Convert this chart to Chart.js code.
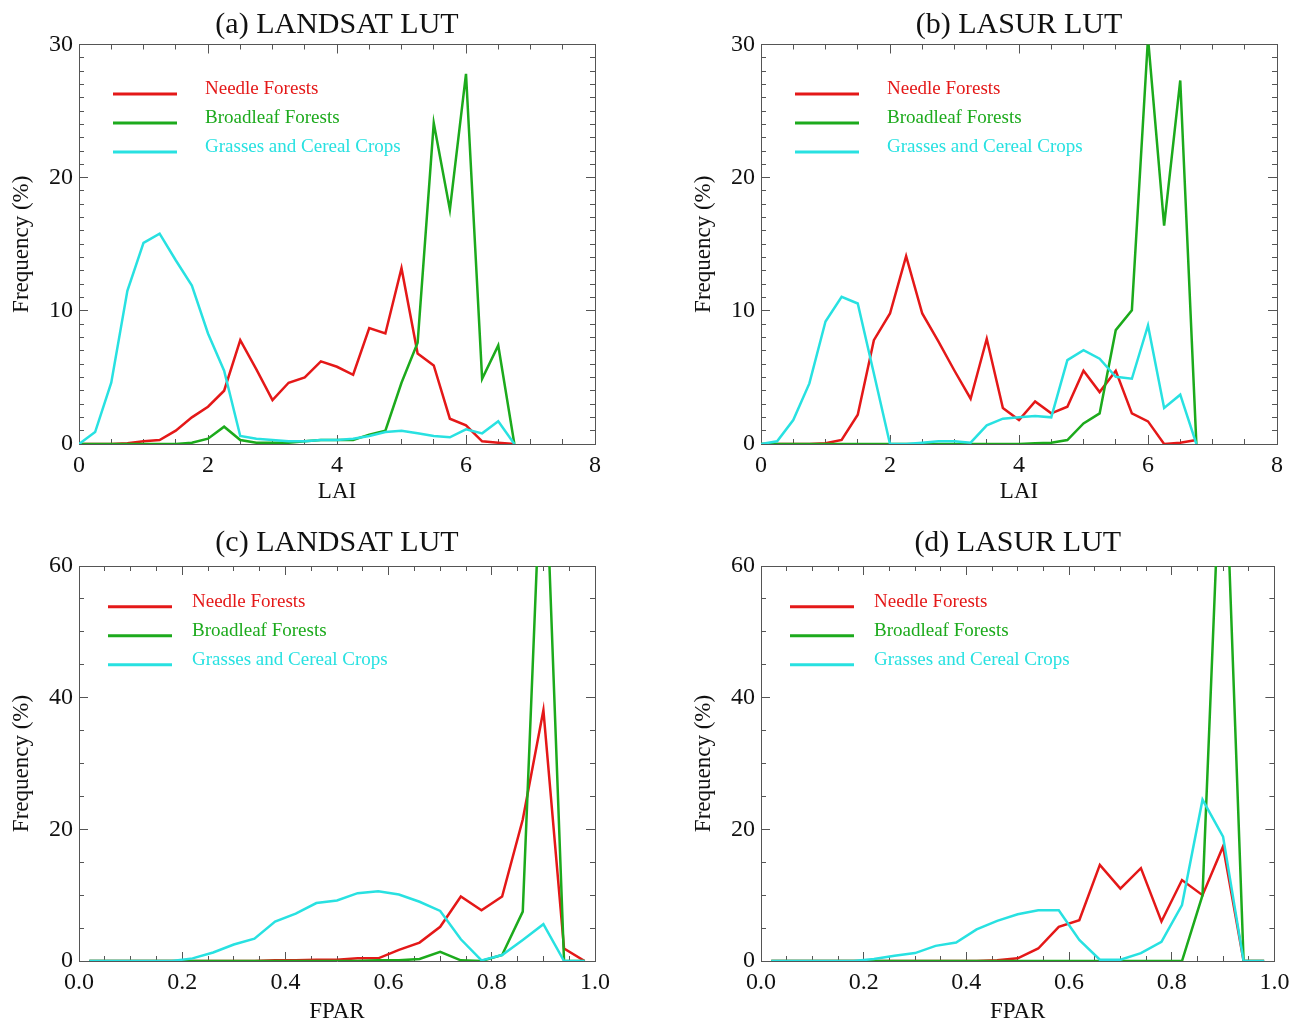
<!DOCTYPE html>
<html><head><meta charset="utf-8">
<script src="https://cdn.jsdelivr.net/npm/chart.js@4.4.0/dist/chart.umd.min.js"></script>
<style>
html,body{margin:0;padding:0;background:#fff;overflow:hidden;width:1306px;height:1022px;position:relative;}
canvas{position:absolute;display:block;}
</style></head><body>
<canvas id="pa" width="640" height="515" style="left:0;top:0"></canvas>
<canvas id="pb" width="624" height="515" style="left:682px;top:0"></canvas>
<canvas id="pc" width="640" height="520" style="left:0;top:520px"></canvas>
<canvas id="pd" width="624" height="520" style="left:682px;top:520px"></canvas>
<script>
// ---------- data ----------
const laiBins = [0,0.25,0.5,0.75,1,1.25,1.5,1.75,2,2.25,2.5,2.75,3,3.25,3.5,3.75,4,4.25,4.5,4.75,5,5.25,5.5,5.75,6,6.25,6.5,6.75];
const fparBins = [0.02,0.06,0.10,0.14,0.18,0.22,0.26,0.30,0.34,0.38,0.42,0.46,0.50,0.54,0.58,0.62,0.66,0.70,0.74,0.78,0.82,0.86,0.90,0.94,0.98];

const seriesNames = ['Needle Forests','Broadleaf Forests','Grasses and Cereal Crops'];
const panelTitles = ['(a) LANDSAT LUT','(b) LASUR LUT','(c) LANDSAT LUT','(d) LASUR LUT'];
const laiTicks = [0,2,4,6,8];
const fparTicks = ['0.0','0.2','0.4','0.6','0.8','1.0'];

// (a) LAI, LANDSAT LUT
const needleLaiLandsat    = [0,0,0,0.05,0.2,0.3,1.0,2.0,2.8,4.0,7.8,5.6,3.3,4.6,5.0,6.2,5.8,5.2,8.7,8.3,13.2,6.8,5.9,1.9,1.4,0.2,0.1,0];
const broadleafLaiLandsat = [0,0,0,0,0,0,0,0.1,0.4,1.3,0.3,0.1,0.1,0.1,0.2,0.3,0.3,0.3,0.7,1.0,4.6,7.6,24.1,17.6,27.8,4.9,7.4,0];
const grassLaiLandsat     = [0,0.9,4.6,11.5,15.1,15.8,13.8,11.9,8.3,5.5,0.6,0.4,0.3,0.2,0.2,0.3,0.3,0.4,0.6,0.9,1.0,0.8,0.6,0.5,1.1,0.8,1.7,0];

// (b) LAI, LASUR LUT
const needleLaiLasur    = [0,0,0,0,0.05,0.3,2.2,7.8,9.8,14.1,9.8,7.7,5.5,3.4,7.9,2.7,1.8,3.2,2.3,2.8,5.5,3.9,5.5,2.3,1.7,0,0.1,0.3];
const broadleafLaiLasur = [0,0,0,0,0,0,0,0,0,0,0,0,0,0,0,0,0,0.05,0.1,0.3,1.55,2.3,8.55,10.05,30.5,16.4,27.3,0];
const grassLaiLasur     = [0,0.2,1.8,4.55,9.2,11.05,10.55,5.3,0,0,0.1,0.2,0.2,0.1,1.4,1.9,2.0,2.1,2.0,6.3,7.05,6.4,5.05,4.9,8.9,2.7,3.7,0];

// (c) FPAR, LANDSAT LUT
const needleFparLandsat    = [0,0,0,0,0,0,0,0,0,0.1,0.1,0.2,0.2,0.4,0.4,1.7,2.8,5.2,9.8,7.7,9.8,21.5,38.1,1.9,0];
const broadleafFparLandsat = [0,0,0,0,0,0,0,0,0,0,0,0,0,0,0.1,0.1,0.3,1.4,0.1,0,0.9,7.5,85,0,0];
const grassFparLandsat     = [0,0,0,0,0,0.4,1.3,2.5,3.4,6.0,7.2,8.8,9.2,10.3,10.6,10.1,9.0,7.6,3.3,0.1,0.9,3.2,5.6,0,0];

// (d) FPAR, LASUR LUT
const needleFparLasur    = [0,0,0,0,0,0,0,0,0,0,0,0.1,0.4,1.9,5.2,6.2,14.6,11.0,14.1,6.0,12.3,10.0,17.4,0,0];
const broadleafFparLasur = [0,0,0,0,0,0,0,0,0,0,0,0,0,0,0,0,0,0,0,0,0,10,87,0,0];
const grassFparLasur     = [0,0,0,0,0,0.3,0.8,1.2,2.3,2.8,4.8,6.1,7.1,7.7,7.7,3.2,0.2,0.2,1.2,2.9,8.5,24.5,18.9,0,0];

// ---------- styles ----------
const FONT = "'Liberation Serif','Times New Roman',Times,serif";
const RED = 'rgb(228,24,24)';
const GREEN = 'rgb(28,170,28)';
const CYAN = 'rgb(40,225,225)';
const FRAME = '#555';
const TXT = '#111';

const insideLegend = {
  id: 'insideLegend',
  afterDatasetsDraw(chart, args, o) {
    const ctx = chart.ctx, ca = chart.chartArea;
    ctx.save();
    chart.data.datasets.forEach((ds, i) => {
      const y = ca.top + o.top + i * o.gap;
      ctx.strokeStyle = ds.borderColor;
      ctx.lineWidth = 3;
      ctx.beginPath();
      ctx.moveTo(ca.left + o.x1, y);
      ctx.lineTo(ca.left + o.x2, y);
      ctx.stroke();
      ctx.fillStyle = ds.borderColor;
      ctx.font = o.fontSize + 'px ' + FONT;
      ctx.textAlign = 'left';
      ctx.textBaseline = 'middle';
      ctx.fillText(ds.label, ca.left + o.tx, y - 5);
    });
    ctx.restore();
  }
};

function pts(xs, ys) { return xs.map((x, i) => ({x: x, y: ys[i]})); }

function makePanel(id, c) {
  const tickFont = {family: FONT, size: 24};
  const titleFont = {family: FONT, size: 23};
  const frameAxis = (pos, min, max, step, major) => ({
    type: 'linear', position: pos, min: min, max: max, weight: major ? 10 : 0,
    ticks: {display: false, stepSize: step, autoSkip: false, maxTicksLimit: 1000},
    grid: {display: true, drawOnChartArea: false, drawTicks: true, tickLength: major ? -9 : -5, color: FRAME, lineWidth: 1},
    border: {display: major, color: FRAME, width: 1},
    afterFit(s) { if (s.isHorizontal()) s.height = 0; else s.width = 0; }
  });

  new Chart(document.getElementById(id), {
    type: 'line',
    data: {
      datasets: [
        {label: seriesNames[0], data: pts(c.x, c.s[0]), borderColor: RED, order: 3},
        {label: seriesNames[1], data: pts(c.x, c.s[1]), borderColor: GREEN, order: 2},
        {label: seriesNames[2], data: pts(c.x, c.s[2]), borderColor: CYAN, order: 1}
      ]
    },
    options: {
      responsive: false, animation: false, devicePixelRatio: 1,
      layout: {padding: {left: 0, right: c.padRight, top: 0, bottom: 0}},
      elements: {line: {borderWidth: 2.5, tension: 0, fill: false}, point: {radius: 0, hoverRadius: 0}},
      plugins: {
        legend: {display: false},
        tooltip: {enabled: false},
        title: {display: true, text: c.title, fullSize: false, color: TXT,
                font: {family: FONT, size: 30, weight: 'normal', lineHeight: 1.2},
                padding: {top: c.titleTop, bottom: c.titleBottom}},
        insideLegend: c.legend
      },
      scales: {
        x: {
          type: 'linear', position: 'bottom', min: c.xmin, max: c.xmax, weight: 10,
          ticks: {stepSize: c.xstep, font: tickFont, color: TXT, padding: 16.6, maxRotation: 0, autoSkip: false,
                  callback: (v, i) => c.xlabels[i]},
          grid: {drawOnChartArea: false, tickLength: -9, color: FRAME, lineWidth: 1},
          border: {display: true, color: FRAME, width: 1},
          title: {display: true, text: c.xtitle, color: TXT, font: titleFont, padding: {top: 0, bottom: c.xtitlePad}},
          afterFit(s) { s.height = c.h - c.bottom; }
        },
        x2: frameAxis('bottom', c.xmin, c.xmax, c.xminor, false),
        xt: frameAxis('top', c.xmin, c.xmax, c.xstep, true),
        xt2: frameAxis('top', c.xmin, c.xmax, c.xminor, false),
        y: {
          type: 'linear', position: 'left', min: 0, max: c.ymax, weight: 10,
          ticks: {stepSize: c.ystep, font: tickFont, color: TXT, padding: 15, autoSkip: false},
          grid: {drawOnChartArea: false, tickLength: -9, color: FRAME, lineWidth: 1},
          border: {display: true, color: FRAME, width: 1},
          title: {display: true, text: 'Frequency (%)', color: TXT, font: titleFont, padding: {top: 8.2, bottom: 0}},
          afterFit(s) { s.width = 79; }
        },
        y2: frameAxis('left', 0, c.ymax, c.yminor, false),
        yr: frameAxis('right', 0, c.ymax, c.ystep, true),
        yr2: frameAxis('right', 0, c.ymax, c.yminor, false)
      }
    },
    plugins: [insideLegend]
  });
}

const topRow = {h: 515, bottom: 444, titleTop: 7, titleBottom: 1.5, xmin: 0, xmax: 8, xstep: 2, xminor: 0.5,
                xlabels: laiTicks.map(String), xtitle: 'LAI', xtitlePad: 9.2, ymax: 30, ystep: 10, yminor: 1,
                legend: {top: 49.5, gap: 29, x1: 34, x2: 98, tx: 126, fontSize: 19}};
const botRow = {h: 520, bottom: 441, titleTop: 5, titleBottom: 5, xmin: 0, xmax: 1, xstep: 0.2, xminor: 0.05,
                xlabels: fparTicks, xtitle: 'FPAR', xtitlePad: 14.2, ymax: 60, ystep: 20, yminor: 5,
                legend: {top: 40.7, gap: 29, x1: 29, x2: 93, tx: 113, fontSize: 19}};

makePanel('pa', Object.assign({}, topRow, {title: panelTitles[0], padRight: 45, x: laiBins,
  s: [needleLaiLandsat, broadleafLaiLandsat, grassLaiLandsat]}));
makePanel('pb', Object.assign({}, topRow, {title: panelTitles[1], padRight: 29, x: laiBins,
  s: [needleLaiLasur, broadleafLaiLasur, grassLaiLasur]}));
makePanel('pc', Object.assign({}, botRow, {title: panelTitles[2], padRight: 45, x: fparBins,
  s: [needleFparLandsat, broadleafFparLandsat, grassFparLandsat]}));
makePanel('pd', Object.assign({}, botRow, {title: panelTitles[3], padRight: 29, x: fparBins,
  s: [needleFparLasur, broadleafFparLasur, grassFparLasur]}));
</script>
</body></html>
